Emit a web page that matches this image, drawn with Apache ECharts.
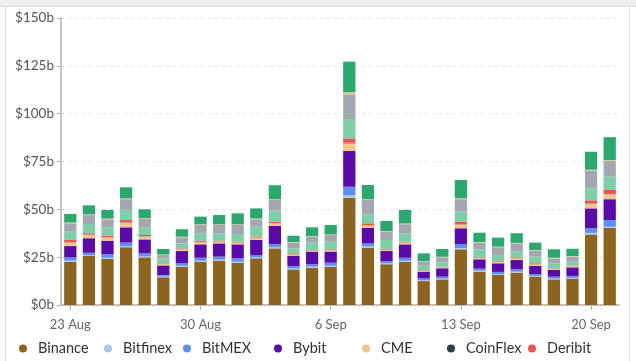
<!DOCTYPE html>
<html>
<head>
<meta charset="utf-8">
<script src="https://cdn.jsdelivr.net/npm/echarts@6/dist/echarts.min.js"></script>
<style>html,body{margin:0;padding:0;background:#fff;}#c{width:636px;height:361px;}</style>
</head>
<body>
<div id="c"></div>
<script>
var dates = ['23 Aug','24 Aug','25 Aug','26 Aug','27 Aug','28 Aug','29 Aug','30 Aug','31 Aug','1 Sep','2 Sep','3 Sep','4 Sep','5 Sep','6 Sep','7 Sep','8 Sep','9 Sep','10 Sep','11 Sep','12 Sep','13 Sep','14 Sep','15 Sep','16 Sep','17 Sep','18 Sep','19 Sep','20 Sep','21 Sep'];
var yTicks = [0, 25, 50, 75, 100, 125, 150];
var binance = [22.6,25.6,24.2,30.2,24.9,14.5,20.0,22.6,23.2,22.1,24.4,29.6,18.6,19.5,20.0,56.1,30.0,21.3,22.6,12.5,13.4,29.1,17.4,15.7,16.9,14.8,13.4,13.8,36.9,40.3];
var bitfinex = [0.6,0.5,0.5,0.6,0.5,0.4,0.5,0.5,0.5,0.5,0.5,0.6,0.5,0.5,0.5,1.2,0.6,0.5,0.5,0.4,0.4,0.7,0.5,0.4,0.5,0.4,0.4,0.4,0.8,0.6];
var bitmex = [1.7,1.2,1.8,1.8,1.6,0.8,1.3,1.6,1.6,1.8,1.2,1.7,1.3,1.3,1.6,4.5,1.6,1.2,1.6,1.0,1.0,2.1,1.1,1.2,1.2,1.0,1.0,1.0,2.4,3.5];
var bybit = [5.9,7.6,7.1,8.0,7.3,5.0,6.4,7.0,6.9,7.3,7.9,9.4,5.2,6.6,5.8,18.7,8.2,5.2,7.0,3.5,4.4,8.2,4.9,4.5,4.9,4.2,3.5,4.5,10.4,10.9];
var cme = [2.0,1.8,1.8,2.6,1.6,0.8,1.0,1.2,1.0,1.0,1.2,1.5,0.9,0.6,0.8,4.0,1.2,0.8,1.0,0.6,0.6,1.9,0.7,0.9,1.0,0.9,0.7,0.8,2.5,2.6];
var coinflex = [0.2,0.1,0.1,0.2,0.1,0.1,0.1,0.1,0.1,0.1,0.1,0.1,0.1,0.1,0.1,0.3,0.1,0.1,0.1,0.1,0.1,0.1,0.1,0.1,0.1,0.1,0.1,0.1,0.2,0.2];
var deribit = [1.0,0.7,0.7,1.0,0.6,0.2,0.3,0.5,0.3,0.3,0.4,0.7,0.4,0.2,0.3,2.3,1.0,0.2,0.3,0.2,0.1,1.5,0.2,0.2,0.3,0.4,0.1,0.1,1.5,2.0];
var ftx = [4.3,4.8,4.4,5.3,4.0,2.6,2.6,4.0,3.9,4.0,5.2,5.7,2.6,3.8,4.0,10.1,4.7,4.7,4.4,2.2,2.1,5.2,4.2,3.1,3.0,3.5,2.6,1.9,6.3,7.0];
var huobi = [4.4,4.7,4.2,5.6,4.4,1.7,3.2,4.3,4.3,4.7,3.9,5.6,3.0,3.1,3.5,12.9,7.5,4.3,4.7,2.1,2.8,6.5,3.5,4.1,4.3,3.1,2.6,2.7,9.2,8.2];
var kraken = [0.4,0.4,0.4,0.4,0.4,0.3,0.3,0.4,0.4,0.4,0.4,0.4,0.3,0.3,0.3,1.1,0.4,0.3,0.4,0.3,0.3,0.5,0.3,0.3,0.3,0.3,0.3,0.3,0.5,0.5];
var okex = [4.5,4.7,4.5,5.8,4.6,2.9,3.9,4.0,4.8,5.7,5.3,7.3,3.3,4.6,4.9,16.0,7.4,5.3,7.1,4.1,4.1,9.5,4.9,4.7,5.0,3.9,4.4,3.8,9.4,11.9];

var seriesDefs = [
  ['Binance', binance, '#8c6420'],
  ['Bitfinex', bitfinex, '#a9c8f2'],
  ['BitMEX', bitmex, '#5f8fee'],
  ['Bybit', bybit, '#5a0aa8'],
  ['CME', cme, '#f3c48c'],
  ['CoinFlex', coinflex, '#333d47'],
  ['Deribit', deribit, '#ef5350'],
  ['FTX', ftx, '#7dcfa6'],
  ['Huobi', huobi, '#a3a8b0'],
  ['Kraken', kraken, '#d8c98e'],
  ['OKEx', okex, '#2aa86d']
];
var legendNames = ['Binance','Bitfinex','BitMEX','Bybit','CME','CoinFlex','Deribit'];
var legendLefts = [19, 104, 183, 274, 362, 447, 528];

var FONT = 'Lato, "Noto Sans", sans-serif';
var chart = echarts.init(document.getElementById('c'), null, {renderer: 'canvas'});
var option = {
  animation: false,
  textStyle: {fontFamily: FONT},
  grid: {left: 61, right: 17, top: 18, bottom: 56, containLabel: false},
  legend: legendNames.map(function (n, i) {
    return {
      data: [n], left: legendLefts[i], top: 341, icon: 'circle',
      itemWidth: 20, itemHeight: 8, padding: 0,
      textStyle: {fontSize: 14.5, color: '#333', fontFamily: FONT}
    };
  }),
  graphic: [
    {type: 'rect', shape: {x: 0, y: 0, width: 636, height: 6}, style: {fill: '#efefef'}, silent: true},
    {type: 'line', shape: {x1: 0, y1: 6.5, x2: 636, y2: 6.5}, style: {stroke: '#dddddd', lineWidth: 1}, silent: true},
    {type: 'line', shape: {x1: 5.5, y1: 6, x2: 5.5, y2: 361}, style: {stroke: '#dddddd', lineWidth: 1}, silent: true},
    {type: 'line', shape: {x1: 629.5, y1: 6, x2: 629.5, y2: 361}, style: {stroke: '#e2e2e2', lineWidth: 1}, silent: true}
  ],
  xAxis: {
    type: 'category', data: dates,
    axisLine: {lineStyle: {color: '#b0b0b0', width: 1.5}},
    axisTick: {show: true, alignWithLabel: true, interval: 6, length: 5, lineStyle: {color: '#b0b0b0'}},
    axisLabel: {interval: 6, color: '#666', fontSize: 13, margin: 13, fontFamily: FONT}
  },
  yAxis: {
    type: 'value', min: yTicks[0], max: yTicks[yTicks.length - 1], interval: 25,
    axisLine: {show: true, lineStyle: {color: '#b0b0b0', width: 1.5}},
    axisTick: {show: true, length: 4, lineStyle: {color: '#b0b0b0'}},
    axisLabel: {color: '#555', fontSize: 13.5, margin: 7, fontFamily: FONT,
      formatter: function (v) { return '$' + v + 'b'; }},
    splitLine: {show: true, lineStyle: {color: '#e4e4e4', type: [3, 4]}}
  },
  series: seriesDefs.map(function (d) {
    return {
      name: d[0], type: 'bar', stack: 'total', data: d[1],
      barWidth: '66%', itemStyle: {color: d[2]}
    };
  })
};
chart.setOption(option);
</script>
</body>
</html>
